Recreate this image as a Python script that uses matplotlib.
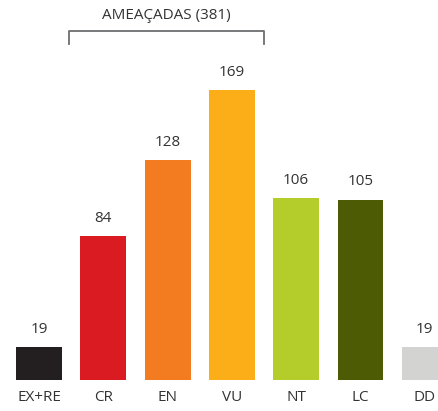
import matplotlib
matplotlib.use("Agg")
import matplotlib.pyplot as plt

categories = ["EX+RE", "CR", "EN", "VU", "NT", "LC", "DD"]
values = [19, 84, 128, 169, 106, 105, 19]
colors = ["#231F20", "#DA1C22", "#F37B20", "#FBAE17", "#B5CD2B", "#4D5B05", "#D3D3D2"]
bracket_label = "AMEAÇADAS (381)"

plt.rcParams['font.family'] = ['Open Sans', 'DejaVu Sans']

fig = plt.figure(figsize=(4.39, 4.11), dpi=100)
ax = fig.add_axes([0, 31 / 411, 1, 380 / 411])

x = range(len(categories))
ax.bar(x, values, width=0.715, color=colors)

for i, v in zip(x, values):
    ax.text(i, v + 6, str(v), ha='center', va='bottom', fontsize=11, color='#333333')

ax.set_xlim(-0.6065, 6.221)
ax.set_ylim(0, 221.4)
ax.set_xticks(list(x))
ax.set_xticklabels(categories, fontsize=11, color='#333333')
ax.tick_params(axis='x', length=0, pad=7)
ax.set_yticks([])
for s in ax.spines.values():
    s.set_visible(False)

# bracket over the threatened categories
bx0, bx1 = 0.467, 3.5
ytop, ybot = 203.4, 195.8
ax.plot([bx0, bx0, bx1, bx1], [ybot, ytop, ytop, ybot], color='#6d6e70',
        linewidth=1.3, clip_on=False)
ax.text((bx0 + bx1) / 2, 212.3, bracket_label, ha='center', va='center',
        fontsize=11, color='#333333')

fig.savefig("out.png", dpi=100)
